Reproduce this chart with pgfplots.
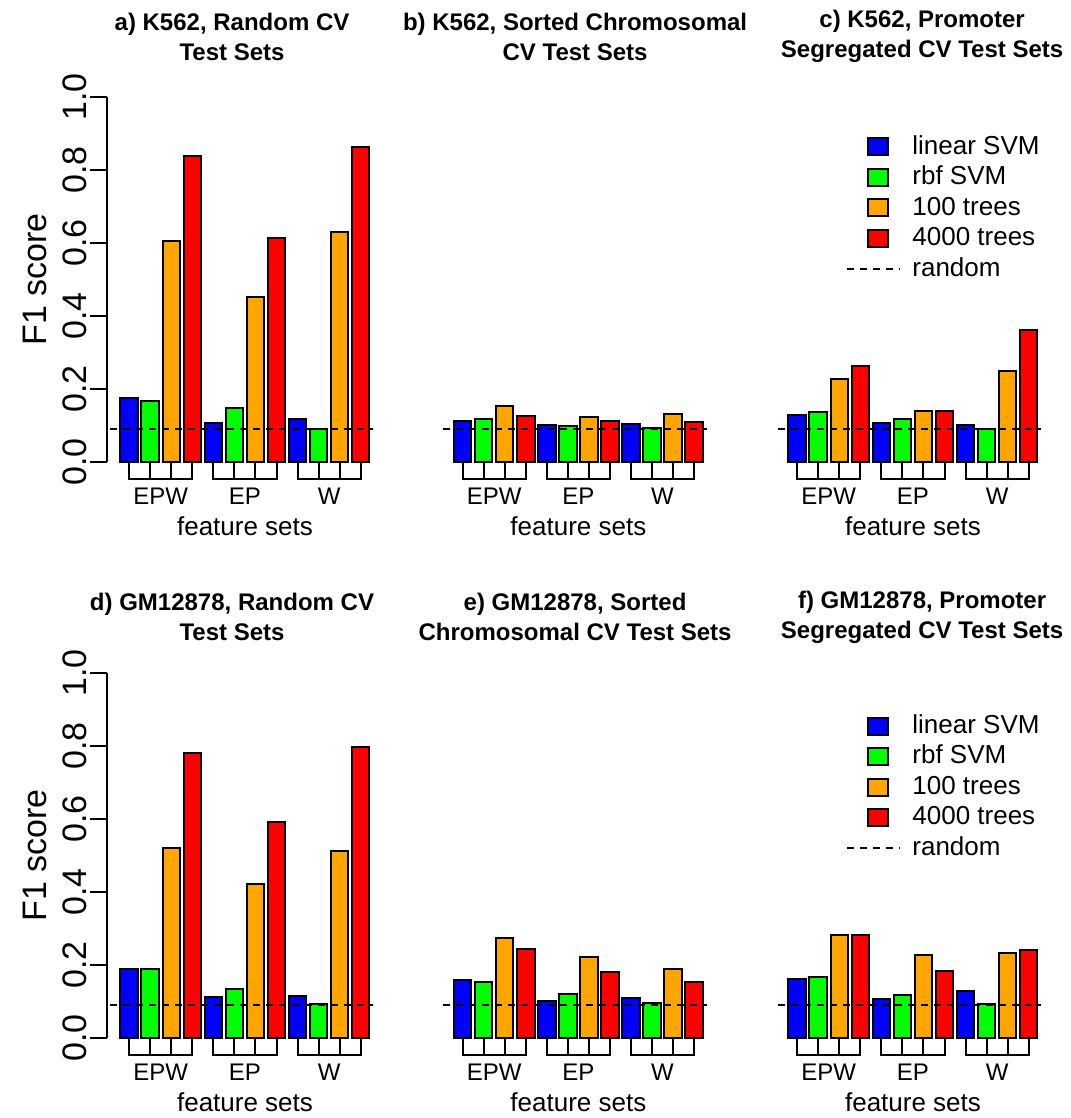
\documentclass[border=0pt]{standalone}
\usepackage{fontspec}
\setmainfont{Liberation Sans}
\usepackage{pgfplots}
\usepackage{pgfplotstable}
\pgfplotsset{compat=1.18}
\definecolor{cblue}{HTML}{0000FF}
\definecolor{cgreen}{HTML}{00FF00}
\definecolor{corange}{HTML}{FFA500}
\definecolor{cred}{HTML}{FF0000}

% F1 scores, one row per feature set (EPW, EP, W); base = first bar index
\pgfplotstableread{
base lin rbf tA tB
0 0.175 0.166 0.605 0.838
4 0.107 0.149 0.452 0.614
8 0.118 0.091 0.630 0.863
}\tabA
\pgfplotstableread{
base lin rbf tA tB
0 0.113 0.118 0.153 0.126
4 0.102 0.098 0.123 0.112
8 0.105 0.092 0.131 0.110
}\tabB
\pgfplotstableread{
base lin rbf tA tB
0 0.128 0.138 0.227 0.263
4 0.106 0.119 0.141 0.140
8 0.102 0.091 0.249 0.362
}\tabC
\pgfplotstableread{
base lin rbf tA tB
0 0.189 0.188 0.520 0.782
4 0.112 0.134 0.421 0.593
8 0.115 0.093 0.511 0.798
}\tabD
\pgfplotstableread{
base lin rbf tA tB
0 0.158 0.153 0.273 0.243
4 0.101 0.120 0.221 0.180
8 0.109 0.096 0.188 0.153
}\tabE
\pgfplotstableread{
base lin rbf tA tB
0 0.162 0.167 0.282 0.281
4 0.106 0.118 0.227 0.183
8 0.128 0.092 0.232 0.240
}\tabF
\pgfplotstableread{
x y
-0.91 0.09
11.6 0.09
}\tabRandom

\newcommand\txt{\fontsize{13}{13}\selectfont}
\newcommand\bigtxt{\fontsize{17}{17}\selectfont}
\pgfplotsset{
  panel/.style={
    scale only axis, width=138pt, height=182.5pt,
    xmin=-1.055, xmax=12.06, ymin=0, ymax=1,
    clip=false, axis x line=none,
    title style={font=\bfseries\fontsize{12}{15}\selectfont, align=center, anchor=center},
  },
  nopanelaxis/.style={axis y line=none},
  leftpanel/.style={
    axis y line*=left,
    ytick={0,0.2,0.4,0.6,0.8,1},
    yticklabels={0.0,0.2,0.4,0.6,0.8,1.0},
    tick align=outside, major tick length=8.5pt,
    axis line style={line width=1pt, -}, tick style={line width=1pt, black},
    yticklabel style={rotate=90, anchor=south, inner sep=1.5pt, font=\bigtxt},
    ylabel={F1 score},
    ylabel style={at={(axis description cs:-0.261,0.5)}, anchor=center, font=\bigtxt},
  },
  bars/.style={ybar, bar width=0.833, bar shift=0pt, draw=black, line width=1pt},
  rnd/.style={sharp plot, black, line width=1.1pt, dash pattern=on 3.5pt off 3pt},
}

\newcommand\bracket[4]{%
  \draw[line width=1pt] (axis cs:#1,-0.003) -- (axis cs:#1,-0.047) -- (axis cs:#4,-0.047) -- (axis cs:#4,-0.003)
    (axis cs:#2,-0.003) -- (axis cs:#2,-0.047) (axis cs:#3,-0.003) -- (axis cs:#3,-0.047);}

\newcommand\panelbody[1]{%
  \addplot[bars, fill=cblue] table[x=base, y=lin] {#1};
  \addplot[bars, fill=cgreen] table[x expr=\thisrow{base}+1, y=rbf] {#1};
  \addplot[bars, fill=corange] table[x expr=\thisrow{base}+2, y=tA] {#1};
  \addplot[bars, fill=cred] table[x expr=\thisrow{base}+3, y=tB] {#1};
  \addplot[rnd] table[x=x, y=y] {\tabRandom};
  \bracket{0}{1}{2}{3}
  \bracket{4}{5}{6}{7}
  \bracket{8}{9}{10}{11}
  \node[font=\fontsize{12}{12}\selectfont] at (axis cs:1.5,-0.095) {EPW};
  \node[font=\fontsize{12}{12}\selectfont] at (axis cs:5.5,-0.095) {EP};
  \node[font=\fontsize{12}{12}\selectfont] at (axis cs:9.5,-0.095) {W};
  \node[font=\txt] at (rel axis cs:0.5,-0.177) {feature sets};
}

\newcommand\legendat[1]{% #1 = pixel y of first row
  \begin{scope}[x=0.5pt, y=-0.5pt, font=\txt]
    \foreach \c/\t [count=\i from 0] in {cblue/linear SVM, cgreen/rbf SVM, corange/100 trees, cred/4000 trees} {
      \draw[fill=\c, line width=1pt] (868,#1+30.5*\i-8.5) rectangle (888,#1+30.5*\i+8.5);
      \node[anchor=west, inner sep=0pt, text height=0.72em, text depth=0pt] at (912,#1+30.5*\i) {\t};
    }
    \draw[black, line width=1.1pt, dash pattern=on 3.5pt off 3pt] (847,#1+122) -- (900,#1+122);
    \node[anchor=west, inner sep=0pt, text height=0.72em, text depth=0pt] at (912,#1+122) {random};
  \end{scope}}

\begin{document}
\begin{tikzpicture}
\path[use as bounding box] (0,0) rectangle (535pt,-559pt);

\begin{axis}[panel, leftpanel, at={(53.5pt,-231pt)}, anchor=south west,
  title={a) K562, Random CV\\Test Sets}, title style={at={(axis description cs:0.453,1.133)}}]
  \panelbody{\tabA}
\end{axis}
\begin{axis}[panel, nopanelaxis, at={(220.2pt,-231pt)}, anchor=south west,
  title={b) K562, Sorted Chromosomal\\CV Test Sets}, title style={at={(axis description cs:0.488,1.133)}}]
  \panelbody{\tabB}
\end{axis}
\begin{axis}[panel, nopanelaxis, at={(387.5pt,-231pt)}, anchor=south west,
  title={c) K562, Promoter\\Segregated CV Test Sets}, title style={at={(axis description cs:0.533,1.133)}}]
  \panelbody{\tabC}
\end{axis}

\begin{axis}[panel, leftpanel, at={(53.5pt,-519pt)}, anchor=south west,
  title={d) GM12878, Random CV\\Test Sets}, title style={at={(axis description cs:0.453,1.12)}}]
  \panelbody{\tabD}
\end{axis}
\begin{axis}[panel, nopanelaxis, at={(220.2pt,-519pt)}, anchor=south west,
  title={e) GM12878, Sorted\\Chromosomal CV Test Sets}, title style={at={(axis description cs:0.488,1.12)}}]
  \panelbody{\tabE}
\end{axis}
\begin{axis}[panel, nopanelaxis, at={(387.5pt,-519pt)}, anchor=south west,
  title={f) GM12878, Promoter\\Segregated CV Test Sets}, title style={at={(axis description cs:0.533,1.12)}}]
  \panelbody{\tabF}
\end{axis}

\legendat{147}
\legendat{726}
\end{tikzpicture}
\end{document}
